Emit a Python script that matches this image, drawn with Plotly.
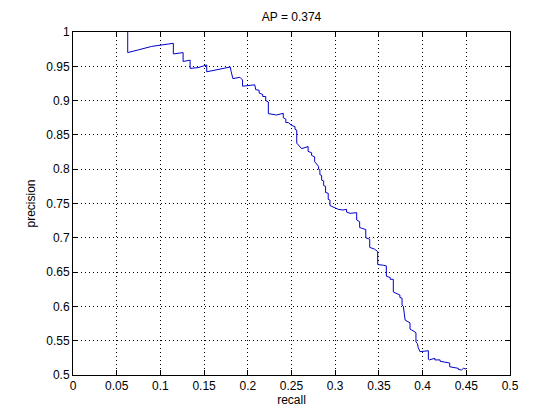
import plotly.graph_objects as go

# precision / recall vertices
recall = [0.0626, 0.0626, 0.075, 0.09, 0.1148, 0.1148, 0.126, 0.126, 0.134, 0.134,
          0.143, 0.153, 0.153, 0.180, 0.181, 0.183, 0.191, 0.194, 0.194, 0.208,
          0.209, 0.213, 0.213, 0.217, 0.217, 0.2205, 0.2205, 0.2235, 0.2235, 0.233,
          0.2406, 0.2406, 0.2435, 0.2435, 0.2464, 0.250, 0.254, 0.254, 0.256, 0.256,
          0.2616, 0.269, 0.269, 0.273, 0.273, 0.2765, 0.2765, 0.281, 0.281, 0.2825,
          0.2825, 0.2845, 0.2845, 0.2868, 0.2868, 0.289, 0.289, 0.292, 0.292, 0.294,
          0.294, 0.296, 0.2998, 0.3035, 0.309, 0.313, 0.313, 0.317, 0.3246, 0.3246,
          0.328, 0.328, 0.3303, 0.335, 0.335, 0.3368, 0.3395, 0.3395, 0.3417, 0.345,
          0.3486, 0.3486, 0.355, 0.3585, 0.3585, 0.3608, 0.363, 0.363, 0.3665, 0.3665,
          0.370, 0.374, 0.374, 0.3765, 0.3765, 0.378, 0.379, 0.380, 0.3856, 0.3856,
          0.3875, 0.3924, 0.3924, 0.394, 0.395, 0.396, 0.397, 0.4066, 0.4066, 0.4077,
          0.414, 0.414, 0.420, 0.420, 0.4275, 0.431, 0.431, 0.435, 0.441, 0.441,
          0.4447, 0.4466, 0.4497]
precision = [1.0, 0.970, 0.974, 0.979, 0.9835, 0.968, 0.970, 0.957, 0.959, 0.947,
             0.948, 0.952, 0.942, 0.949, 0.942, 0.932, 0.934, 0.930, 0.921, 0.923,
             0.916, 0.915, 0.911, 0.909, 0.906, 0.906, 0.900, 0.898, 0.881, 0.879,
             0.8815, 0.875, 0.873, 0.868, 0.868, 0.864, 0.862, 0.858, 0.857, 0.838,
             0.830, 0.833, 0.826, 0.824, 0.820, 0.818, 0.811, 0.804, 0.800, 0.799,
             0.792, 0.791, 0.784, 0.783, 0.776, 0.775, 0.766, 0.765, 0.756, 0.755,
             0.747, 0.746, 0.743, 0.7415, 0.7405, 0.7415, 0.7375, 0.7357, 0.7366, 0.726,
             0.7235, 0.715, 0.714, 0.712, 0.700, 0.699, 0.698, 0.686, 0.6847, 0.6835,
             0.680, 0.661, 0.660, 0.659, 0.644, 0.6433, 0.642, 0.6395, 0.6395, 0.621,
             0.619, 0.6166, 0.613, 0.612, 0.602, 0.600, 0.590, 0.580, 0.576, 0.567,
             0.5656, 0.5617, 0.548, 0.546, 0.540, 0.5364, 0.534, 0.5354, 0.523, 0.522,
             0.5244, 0.522, 0.522, 0.520, 0.518, 0.5175, 0.512, 0.511, 0.5097, 0.508,
             0.5073, 0.5097, 0.5087]

x_ticks = [0, 0.05, 0.1, 0.15, 0.2, 0.25, 0.3, 0.35, 0.4, 0.45, 0.5]
x_labels = ["0", "0.05", "0.1", "0.15", "0.2", "0.25", "0.3", "0.35", "0.4", "0.45", "0.5"]
y_ticks = [0.5, 0.55, 0.6, 0.65, 0.7, 0.75, 0.8, 0.85, 0.9, 0.95, 1.0]
y_labels = ["0.5", "0.55", "0.6", "0.65", "0.7", "0.75", "0.8", "0.85", "0.9", "0.95", "1"]

fig = go.Figure()
fig.add_trace(go.Scatter(x=recall, y=precision, mode='lines',
                         line=dict(color='#0000cc', width=1), showlegend=False))

axis_style = dict(showline=True, linecolor='black', linewidth=1, mirror='ticks',
                  ticks='inside', ticklen=5, tickcolor='black', automargin=False,
                  showgrid=True, gridcolor='black', gridwidth=1, griddash='1px,3px',
                  zeroline=False, tickfont=dict(size=12, color='black'))

# the page body adds an 8px offset, so margins are shifted to compensate
fig.update_layout(
    width=560, height=420,
    paper_bgcolor='white', plot_bgcolor='white',
    margin=dict(l=65, r=58, t=24, b=53, autoexpand=False),
    font=dict(family='Liberation Sans, Arial, sans-serif', size=12, color='black'),
    title=dict(text='AP = 0.374', x=0.5, xanchor='center', xref='paper',
               y=0.978, yref='container', yanchor='middle',
               font=dict(size=12)),
    xaxis=dict(range=[0, 0.5], tickvals=x_ticks, ticktext=x_labels,
               title=dict(text='recall', standoff=3, font=dict(size=12)), **axis_style),
    yaxis=dict(range=[0.5, 1.0], tickvals=y_ticks, ticktext=y_labels,
               title=dict(text='precision', standoff=8, font=dict(size=12)), **axis_style),
)

fig.write_html("out.html")
